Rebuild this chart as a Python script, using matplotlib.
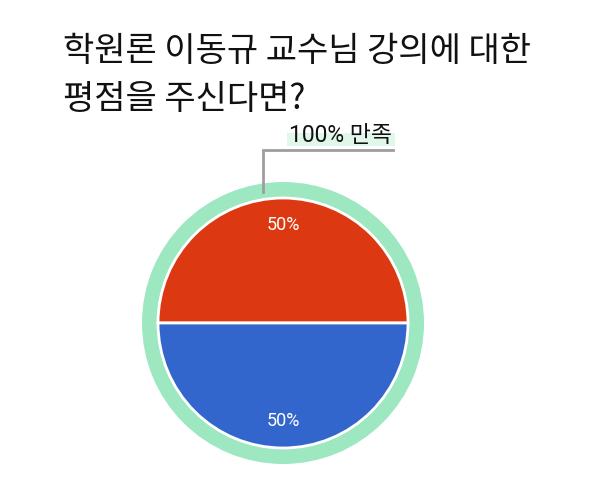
import matplotlib
matplotlib.use("Agg")
import matplotlib.pyplot as plt
import matplotlib.patches as mpatches

plt.rcParams["font.family"] = ["Noto Sans CJK KR", "DejaVu Sans"]

W, H = 594, 494

title_lines = ["학원론 이동규 교수님 강의에 대한", "평점을 주신다면?"]
categories = ["만족 A", "만족 B"]
values = [50, 50]
colors = ["#dc3912", "#3366cc"]
group_label = "100% 만족"
group_value = [100]
ring_color = "#9de8c1"

fig = plt.figure(figsize=(W / 100, H / 100), dpi=100)
ax = fig.add_axes([0, 0, 1, 1])

cx, cy = 283, H - 323

# 바깥 초록 링
ax.pie(group_value, colors=[ring_color], radius=141, center=(cx, cy),
       startangle=90, wedgeprops=dict(width=15, linewidth=0))

# 안쪽 파이
wedges, texts, autotexts = ax.pie(
    values, colors=colors, radius=125, center=(cx, cy), startangle=0,
    autopct="%d%%", pctdistance=0.785,
    wedgeprops=dict(edgecolor="white", linewidth=2),
    textprops=dict(color="white", fontsize=13, family=["Roboto", "DejaVu Sans"]))

# 주석 선
ax.plot([263, 263, 393], [H - 192, H - 150, H - 150], color="#9e9e9e", lw=2,
        solid_joinstyle="miter", zorder=3)
ax.add_patch(mpatches.Rectangle((287, H - 146), 108, 13, color="#e0f7e9", lw=0, zorder=2))
ax.text(392, H - 142, group_label, ha="right", va="baseline", fontsize=16.5,
        color="#111111", family=["Roboto", "Noto Sans CJK KR"], zorder=4)

for i, line in enumerate(title_lines):
    ax.text(63, H - 61 - i * 48, line, ha="left", va="baseline", fontsize=24.5,
            color="#111111")

ax.set_xlim(0, W)
ax.set_ylim(0, H)
ax.set_aspect("equal")
ax.set_axis_off()

fig.savefig("out.png", dpi=100)
